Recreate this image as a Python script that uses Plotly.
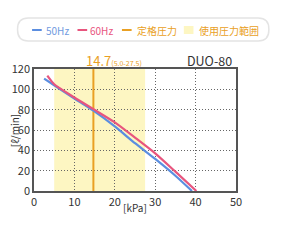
import plotly.graph_objects as go

# data
hz50_x = [2.5, 5, 10, 14.7, 20, 25, 30, 35, 39.1]
hz50_y = [110.5, 104, 91, 79, 63.5, 47, 31.5, 15, 0]
hz60_x = [3.3, 5, 10, 14.7, 20, 25, 30, 35, 40.2]
hz60_y = [113.5, 105, 92, 80.5, 67.5, 52.5, 37, 19, 0]
rated_pressure = 14.7
range_lo, range_hi = 5.0, 27.5
x_ticks = [0, 10, 20, 30, 40, 50]
y_ticks = [0, 20, 40, 60, 80, 100, 120]

BLUE = "#5b8ee0"
PINK = "#e8557e"
ORANGE = "#e9a024"
YELLOW = "#fdf6c2"
FONT = "Noto Sans CJK JP"

W, H = 290, 250
ML, MR, MT, MB = 27, 54, 69, 59
PW, PH = W - ML - MR, H - MT - MB

def px(x):
    return (x - ML) / PW

def py(y):
    return (H - MB - y) / PH

fig = go.Figure()
fig.add_trace(go.Scatter(x=[rated_pressure, rated_pressure], y=[0, 120], mode="lines",
                         line=dict(color=ORANGE, width=2), showlegend=False, hoverinfo="skip"))
fig.add_trace(go.Scatter(x=hz50_x, y=hz50_y, mode="lines",
                         line=dict(color=BLUE, width=2.2, shape="spline", smoothing=0.6),
                         name="50Hz", showlegend=False))
fig.add_trace(go.Scatter(x=hz60_x, y=hz60_y, mode="lines",
                         line=dict(color=PINK, width=2.2, shape="spline", smoothing=0.6),
                         name="60Hz", showlegend=False))

shapes = []
# usage range band
shapes.append(dict(type="rect", xref="x", yref="y", x0=range_lo, x1=range_hi, y0=0, y1=120,
                   fillcolor=YELLOW, line=dict(width=0), layer="below"))

# legend pill box
x0, x1, y0, y1, r = 10, 270, 18, 41, 11
def P(x, y):
    return f"{px(x):.5f},{py(y):.5f}"
path = (f"M{P(x0+r,y0)} L{P(x1-r,y0)} Q{P(x1,y0)} {P(x1,y0+r)} L{P(x1,y1-r)} "
        f"Q{P(x1,y1)} {P(x1-r,y1)} L{P(x0+r,y1)} Q{P(x0,y1)} {P(x0,y1-r)} "
        f"L{P(x0,y0+r)} Q{P(x0,y0)} {P(x0+r,y0)} Z")
shapes.append(dict(type="path", xref="paper", yref="paper", path=path,
                   line=dict(color="#e4e4e4", width=1.5), fillcolor="rgba(0,0,0,0)"))

ly = 30
for (a, b, c) in [(25, 35, BLUE), (72, 82, PINK), (118, 128, ORANGE)]:
    shapes.append(dict(type="line", xref="paper", yref="paper", x0=px(a), x1=px(b),
                       y0=py(ly), y1=py(ly), line=dict(color=c, width=2)))
shapes.append(dict(type="rect", xref="paper", yref="paper", x0=px(182), x1=px(192),
                   y0=py(26), y1=py(34), fillcolor=YELLOW, line=dict(width=0)))

annotations = []
for (xx, txt, c) in [(37, "50Hz", "#6f9ae0"), (83, "60Hz", PINK), (131, "定格圧力", ORANGE),
                     (196, "使用圧力範囲", ORANGE)]:
    annotations.append(dict(xref="paper", yref="paper", x=px(xx), y=py(ly), text=txt,
                            showarrow=False, xanchor="left", yanchor="middle",
                            font=dict(family=FONT, size=10, color=c)))

annotations.append(dict(xref="paper", yref="paper", x=px(79), y=py(61),
                        text="14.7<span style='font-size:7px'>(5.0-27.5)</span>",
                        showarrow=False, xanchor="left", yanchor="middle",
                        font=dict(family=FONT, size=13, color=ORANGE)))
annotations.append(dict(xref="paper", yref="paper", x=px(234), y=py(60), text="DUO-80",
                        showarrow=False, xanchor="right", yanchor="middle",
                        font=dict(family=FONT, size=12.5, color="#333333")))
annotations.append(dict(xref="paper", yref="paper", x=px(131.5), y=py(207.5), text="[kPa]",
                        showarrow=False, xanchor="center", yanchor="middle",
                        font=dict(family=FONT, size=10, color="#333333")))
annotations.append(dict(xref="paper", yref="paper", x=px(6.5), y=py(131), text="[ℓ/min]",
                        showarrow=False, xanchor="center", yanchor="middle", textangle=-90,
                        font=dict(family=FONT, size=10, color="#333333")))

axis_common = dict(showline=True, linecolor="#555555", linewidth=1.5, mirror=True,
                   showgrid=True, gridcolor="#666666", griddash="1px,2px", gridwidth=1,
                   zeroline=False, ticks="", tickfont=dict(family=FONT, size=11, color="#333333"))

fig.update_layout(
    width=W, height=H, margin=dict(l=ML, r=MR, t=MT, b=MB),
    paper_bgcolor="white", plot_bgcolor="white",
    xaxis=dict(range=[0, 50], tickvals=x_ticks, **axis_common),
    yaxis=dict(range=[0, 120], tickvals=y_ticks, **axis_common),
    shapes=shapes, annotations=annotations, showlegend=False,
)
fig.write_html("out.html")
